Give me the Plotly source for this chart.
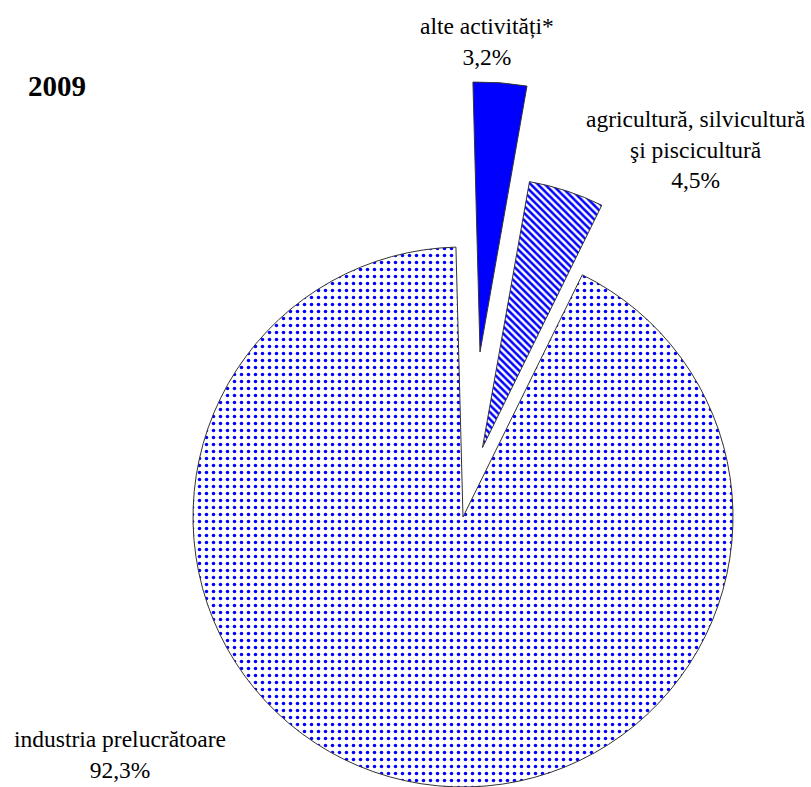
import plotly.graph_objects as go

# ---- data ----
categories = ["alte activități*", "agricultură, silvicultură<br>şi piscicultură", "industria prelucrătoare"]
shares = [3.2, 4.5, 92.3]
share_labels = ["3,2%", "4,5%", "92,3%"]
year_label = "2009"

# ---- styling / layout ----
W, H = 811, 787
R = 270
BLUE = "#0000FF"
TRANSPARENT = "rgba(0,0,0,0)"
ROTATION = -1.5
FONT = "Liberation Serif"
# pie centres (px) for each exploded slice
centers = [(480, 352), (482.5, 447.5), (463, 517)]
slice_fill = [BLUE, "white", "white"]
slice_shape = ["", "\\", "."]
slice_size = [8, 5, 7]
slice_solidity = [0.3, 0.5, 0.2]

fig = go.Figure()
n = len(shares)
for i, (cx, cy) in enumerate(centers):
    colors = [TRANSPARENT] * n
    colors[i] = slice_fill[i]
    shapes = [""] * n
    shapes[i] = slice_shape[i]
    lw = [0] * n
    lw[i] = 1
    fig.add_trace(go.Pie(
        labels=[c.replace("<br>", " ") for c in categories],
        values=shares,
        sort=False,
        direction="clockwise",
        rotation=ROTATION,
        textinfo="none",
        hoverinfo="skip",
        showlegend=False,
        marker=dict(
            colors=colors,
            line=dict(color="#333333", width=lw),
            pattern=dict(
                shape=shapes,
                fgcolor=BLUE,
                bgcolor="white",
                size=slice_size[i],
                solidity=slice_solidity[i],
                fillmode="replace",
            ),
        ),
        domain=dict(
            x=[(cx - R) / W, (cx + R) / W],
            y=[max(0, (H - (cy + R)) / H), (H - (cy - R)) / H],
        ),
    ))

label_pos = [(487, 42), (696, 149), (120, 754)]
annotations = []
for cat, lab, (px, py) in zip(categories, share_labels, label_pos):
    annotations.append(dict(
        text=f"{cat}<br>{lab}", x=px / W, y=1 - py / H, xref="paper", yref="paper",
        xanchor="center", yanchor="middle", showarrow=False, align="center",
        font=dict(family=FONT, size=23.5, color="black"),
    ))
annotations.append(dict(
    text=f"<b>{year_label}</b>", x=57 / W, y=1 - 86 / H, xref="paper", yref="paper",
    xanchor="center", yanchor="middle", showarrow=False,
    font=dict(family=FONT, size=29, color="black"),
))

fig.update_layout(
    width=W, height=H,
    margin=dict(l=0, r=0, t=0, b=0),
    paper_bgcolor="white", plot_bgcolor="white",
    annotations=annotations,
)

fig.write_html("out.html", config={"displayModeBar": False},
               post_script="document.body.style.margin='0';")
